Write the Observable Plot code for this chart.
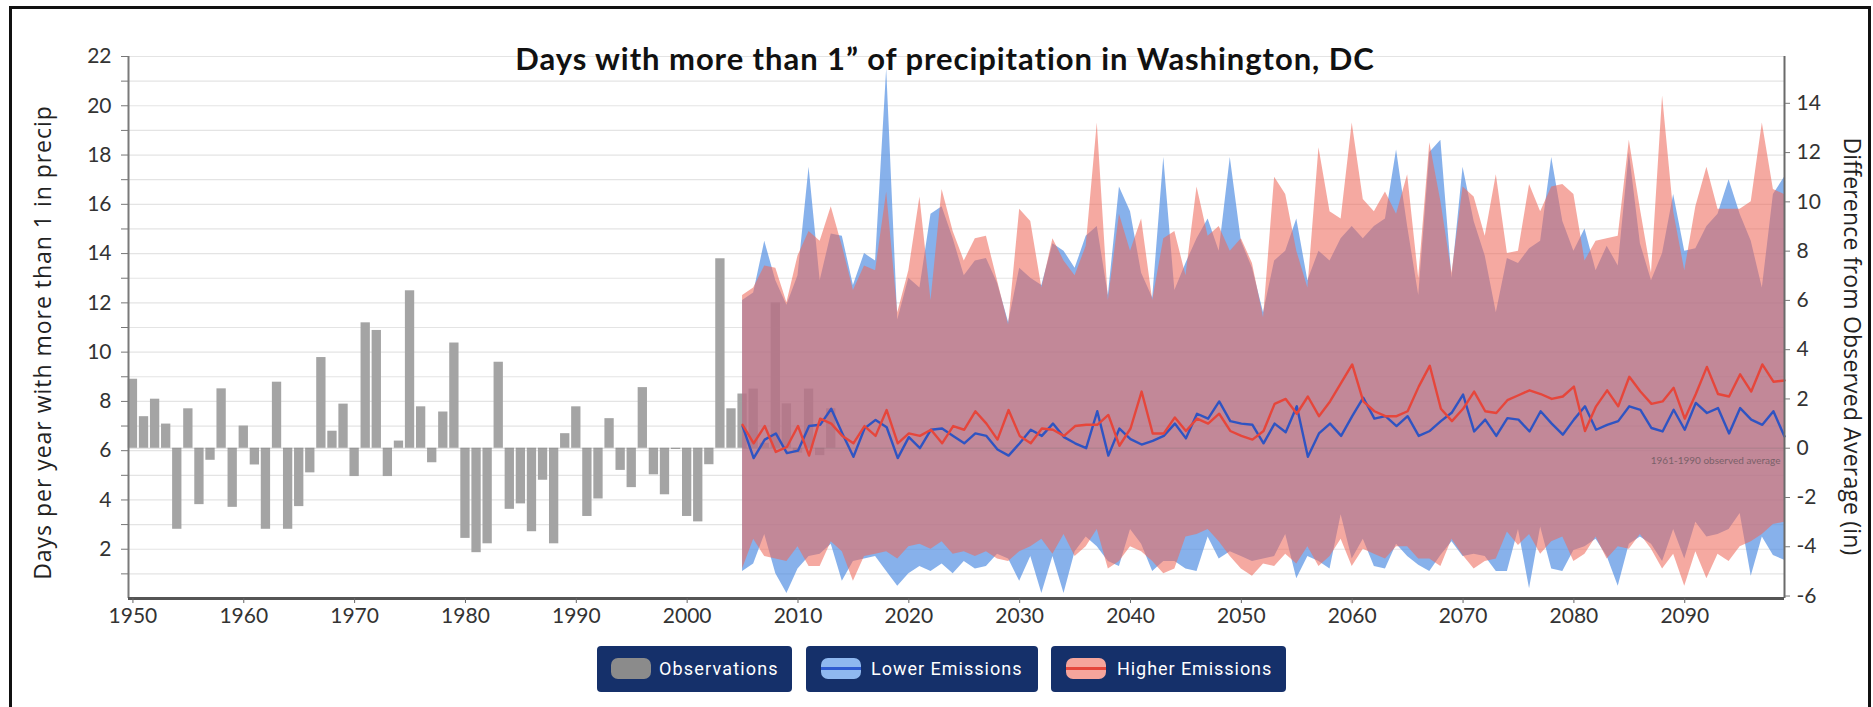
<!DOCTYPE html>
<html>
<head>
<meta charset="utf-8">
<script src="https://cdn.jsdelivr.net/npm/d3@7"></script>
<script src="https://cdn.jsdelivr.net/npm/@observablehq/plot@0.6"></script>
<style>
  html, body { margin: 0; padding: 0; background: #fff; width: 1873px; height: 707px; overflow: hidden; }
  #frame { position: absolute; left: 9px; top: 6px; width: 1862px; height: 730px; border: 3px solid #111; box-sizing: border-box; }
  #chart { position: absolute; left: 0; top: 0; }
  .title { position: absolute; left: 945px; top: 43px; transform: translateX(-50%); font: bold 31px Lato, sans-serif; line-height: 31px; color: #111; white-space: nowrap; }
  .ylab { position: absolute; font: 23px "Open Sans", sans-serif; color: #222; white-space: nowrap; line-height: 23px; }
  .leg { position: absolute; top: 646px; height: 46px; background: #15306a; border-radius: 4px; }
  .sw { position: absolute; top: 12px; width: 40px; height: 21px; border-radius: 7px; box-sizing: border-box; }
  .sw .ln { position: absolute; left: 0; right: 0; top: 9px; height: 3px; }
  .lt { position: absolute; top: 12px; font: 400 18px Roboto, sans-serif; line-height: 22px; color: #fff; white-space: nowrap; }
</style>
</head>
<body>
<div id="chart"></div>
<div id="frame"></div>
<div class="title" id="title">Days with more than 1” of precipitation in Washington, DC</div>
<div class="ylab" id="ylabL">Days per year with more than 1 in precip</div>
<div class="ylab" id="ylabR">Difference from Observed Average (in)</div>

<div class="leg" style="left:597px;width:195px;">
  <div class="sw" style="left:14px;background:#8b8b8b;"></div>
  <div class="lt" id="lt1" style="left:62px;">Observations</div>
</div>
<div class="leg" style="left:806px;width:232px;">
  <div class="sw" style="left:15px;background:#8fb8f0;"><div class="ln" style="background:#2f5bd0;"></div></div>
  <div class="lt" id="lt2" style="left:65px;">Lower Emissions</div>
</div>
<div class="leg" style="left:1051px;width:235px;">
  <div class="sw" style="left:15px;background:#f6a59c;"><div class="ln" style="background:#e5473c;"></div></div>
  <div class="lt" id="lt3" style="left:66px;">Higher Emissions</div>
</div>

<script>
// ---------- DATA ----------
const BASELINE = 6.1;            // 1961-1990 observed average (days), = 0 on right axis
const OBS_START = 1950;
// Days per year with more than 1" of precipitation, 1950-2013
const observations = [
  8.9, 7.38, 8.09, 7.08, 2.81, 7.7, 3.81, 5.61, 8.51, 3.7,
  7.0, 5.42, 2.81, 8.78, 2.81, 3.73, 5.1, 9.78, 6.79, 7.89,
  4.95, 11.19, 10.88, 4.95, 6.39, 12.49, 7.78, 5.51, 7.57, 10.37,
  2.44, 1.86, 2.22, 9.59, 3.62, 3.84, 2.71, 4.8, 2.22, 6.69,
  7.78, 3.33, 4.04, 7.3, 5.2, 4.5, 8.56, 5.02, 4.21, 6.05,
  3.33, 3.11, 5.43, 13.79, 7.7, 8.3, 8.5, 6.3, 12.0, 7.9,
  5.9, 8.5, 5.8, 7.7
];

const PROJ_START = 2005;
// Projections 2005-2099, difference from observed average (right axis)
const lowerMid = [
  0.9, -0.4, 0.35, 0.6, -0.2, -0.1, 0.9, 0.95, 1.6, 0.6,
  -0.35, 0.8, 1.15, 0.85, -0.4, 0.45, 0.0, 0.75, 0.8, 0.5,
  0.2, 0.6, 0.5, -0.05, -0.3, 0.2, 0.75, 0.5, 1.0, 0.45,
  0.2, 0.0, 1.5, -0.3, 0.8, 0.37, 0.15, 0.3, 0.5, 1.0,
  0.4, 1.4, 1.2, 1.9, 1.1, 1.0, 0.95, 0.2, 1.0, 0.65,
  1.7, -0.35, 0.6, 1.0, 0.5, 1.3, 2.05, 1.2, 1.3, 0.9,
  1.3, 0.5, 0.7, 1.1, 1.45, 2.18, 0.68, 1.16, 0.5, 1.22,
  1.16, 0.68, 1.5, 1.0, 0.55, 1.16, 1.7, 0.75, 0.95, 1.1,
  1.7, 1.56, 0.82, 0.68, 1.56, 0.75, 1.84, 1.43, 1.63, 0.6,
  1.63, 1.16, 0.95, 1.5, 0.48
];
const higherMid = [
  0.95, 0.2, 0.9, -0.15, 0.05, 0.9, -0.3, 1.2, 1.0, 0.5,
  0.2, 0.9, 0.5, 1.55, 0.2, 0.6, 0.5, 0.75, 0.2, 0.9,
  0.75, 1.5, 1.0, 0.35, 1.55, 0.5, 0.2, 0.8, 0.75, 0.5,
  0.9, 0.95, 0.95, 1.35, 0.1, 0.8, 2.3, 0.6, 0.6, 1.25,
  0.7, 1.2, 1.0, 1.4, 0.7, 0.5, 0.35, 0.7, 1.8, 2.0,
  1.4, 2.1, 1.3, 1.9, 2.65, 3.4, 1.9, 1.5, 1.3, 1.3,
  1.5, 2.5, 3.35, 1.6, 1.1, 1.6, 2.3, 1.5, 1.43, 1.95,
  2.15, 2.35, 2.2, 2.0, 2.1, 2.5, 0.7, 1.7, 2.35, 1.7,
  2.9, 2.3, 1.8, 1.9, 2.45, 1.2, 2.2, 3.3, 2.2, 2.1,
  3.0, 2.3, 3.4, 2.7, 2.75
];
const lowerHi = [
  6.0, 6.3, 8.4, 6.8, 5.8, 7.0, 11.4, 6.8, 8.7, 8.6,
  6.6, 7.9, 7.6, 15.4, 5.2, 6.9, 6.5, 9.5, 9.8, 8.5,
  7.0, 7.6, 7.7, 6.7, 5.1, 7.3, 6.9, 6.6, 8.3, 8.0,
  7.3, 8.6, 9.0, 6.2, 10.6, 9.6, 7.1, 6.1, 11.8, 6.4,
  7.5, 8.5, 9.3, 8.0, 11.8, 8.4, 7.3, 5.5, 7.6, 8.0,
  9.3, 6.8, 8.0, 7.6, 8.5, 9.0, 8.5, 9.0, 9.3, 12.1,
  9.0, 6.2, 12.0, 12.5, 6.9, 11.4, 9.2, 7.8, 5.5, 7.7,
  7.5, 8.1, 8.4, 11.8, 9.2, 8.0, 8.9, 7.2, 8.2, 7.4,
  12.0, 8.3, 6.8, 7.9, 10.3, 8.0, 8.1, 9.0, 9.5, 10.9,
  9.5, 8.4, 6.5, 10.3, 11.0
];
const lowerLo = [
  -5.0, -4.7, -3.5, -5.1, -5.9, -4.9, -4.4, -4.3, -3.9, -5.4,
  -4.6, -4.5, -4.4, -5.0, -5.6, -5.1, -4.8, -5.0, -4.7, -5.1,
  -4.6, -4.9, -4.8, -4.3, -4.5, -5.4, -4.4, -5.9, -4.4, -5.9,
  -4.2, -3.6, -4.0, -4.6, -4.8, -3.3, -3.9, -5.0, -4.6, -4.6,
  -4.9, -5.0, -3.6, -4.5, -4.2, -4.4, -4.6, -4.5, -4.4, -3.5,
  -5.3, -4.4, -4.6, -4.9, -2.7, -4.5, -3.7, -4.8, -4.9, -3.9,
  -4.4, -4.75, -5.0, -4.35, -3.8, -4.4, -4.3, -4.4, -5.0, -5.0,
  -3.3, -5.7, -3.2, -4.9, -5.0, -4.15, -4.0, -3.7, -4.4, -5.6,
  -3.9, -3.6, -3.9, -4.6, -3.3, -4.5, -3.0, -3.6, -3.5, -3.3,
  -2.65, -5.2, -3.6, -4.35, -4.55
];
const higherHi = [
  6.2, 6.5, 7.4, 7.3, 5.9, 7.8, 8.8, 8.4, 9.8, 8.2,
  6.4, 7.4, 7.2, 10.4, 5.5, 7.2, 10.2, 6.0, 10.5, 8.8,
  7.6, 8.5, 8.6, 6.8, 5.0, 9.7, 9.2, 6.5, 8.5, 7.6,
  7.0, 8.2, 13.2, 6.0, 9.5, 8.0, 9.3, 6.0, 8.5, 8.8,
  7.0, 10.6, 8.6, 9.0, 8.0, 8.5, 7.5, 5.3, 11.0, 10.3,
  8.0, 6.5, 12.2, 9.6, 9.3, 13.2, 10.1, 9.6, 10.4, 9.5,
  11.1, 6.9, 12.4, 10.0, 7.1, 10.6, 10.2, 8.6, 11.1, 7.9,
  8.0, 10.7, 9.6, 10.6, 10.7, 10.3, 7.6, 8.4, 8.5, 8.6,
  12.5, 9.7, 7.1, 14.3, 9.6, 7.2, 9.8, 11.4, 9.7, 9.7,
  9.7, 10.0, 13.2, 10.5, 10.3
];
const higherLo = [
  -4.9, -3.7, -4.4, -4.5, -4.6, -4.0, -4.8, -4.8, -3.8, -4.2,
  -5.4, -4.4, -4.3, -4.2, -4.5, -4.0, -3.9, -4.1, -3.8, -4.3,
  -4.2, -4.4, -4.2, -4.5, -4.6, -4.2, -4.0, -3.7, -4.3, -3.5,
  -4.4, -4.0, -3.3, -4.9, -4.6, -4.0, -4.2, -4.6, -5.1, -4.9,
  -3.6, -3.5, -3.3, -3.8, -4.4, -4.9, -5.2, -4.7, -4.8, -4.3,
  -4.7, -4.0, -4.8, -4.4, -3.7, -4.8, -4.1, -4.3, -4.5, -4.0,
  -4.0, -4.5, -4.5, -4.8, -3.7, -4.35, -4.9, -4.6, -4.5, -3.4,
  -3.95, -3.5, -4.3, -3.8, -3.6, -4.6, -4.3, -3.6, -4.5, -4.0,
  -4.1, -3.5, -4.1, -4.9, -4.3, -5.6, -4.2, -5.3, -4.3, -4.6,
  -4.0, -3.8, -3.5, -3.1, -3.0
];

// Tick labels
const xTicks = [1950, 1960, 1970, 1980, 1990, 2000, 2010, 2020, 2030, 2040, 2050, 2060, 2070, 2080, 2090];
const leftTicks = [2, 4, 6, 8, 10, 12, 14, 16, 18, 20, 22];
const leftMinorTicks = [1, 3, 5, 7, 9, 11, 13, 15, 17, 19, 21];
const rightTicks = [-6, -4, -2, 0, 2, 4, 6, 8, 10, 12, 14];
const baselineNote = "1961-1990 observed average";

// ---------- TABLES ----------
const obs = observations.map((v, i) => ({year: OBS_START + i, value: v}));
const proj = lowerMid.map((_, i) => ({
  year: PROJ_START + i,
  lowerMid: lowerMid[i] + BASELINE, lowerHi: lowerHi[i] + BASELINE, lowerLo: lowerLo[i] + BASELINE,
  higherMid: higherMid[i] + BASELINE, higherHi: higherHi[i] + BASELINE, higherLo: higherLo[i] + BASELINE
}));
const xMin = 1949.6, xMax = proj[proj.length - 1].year;

const chart = Plot.plot({
  width: 1873,
  height: 640,
  marginLeft: 128,
  marginRight: 89,
  marginTop: 56,
  marginBottom: 42,
  x: {domain: [xMin, xMax], axis: null},
  y: {domain: [0, 22], axis: null},
  style: {fontFamily: "Lato, sans-serif", fontSize: "21px", color: "#333", background: "transparent", overflow: "visible"},
  marks: [
    Plot.gridY(d3.range(1, 23), {stroke: "#e4e4e4", strokeOpacity: 1, strokeWidth: 1.2}),
    Plot.rect(obs, {x1: d => d.year - 0.42, x2: d => d.year + 0.42, y1: () => BASELINE, y2: "value", fill: "#a4a4a4"}),
    Plot.areaY(proj, {x: "year", y1: "lowerLo", y2: "lowerHi", fill: "rgb(70,135,225)", fillOpacity: 0.65}),
    Plot.areaY(proj, {x: "year", y1: "higherLo", y2: "higherHi", fill: "rgb(238,105,90)", fillOpacity: 0.574}),
    Plot.ruleY([BASELINE], {stroke: "#666", strokeOpacity: 0.25, strokeWidth: 1}),
    Plot.text([proj[proj.length - 1]], {x: "year", y: () => BASELINE, text: () => baselineNote, dy: 13, dx: -4, textAnchor: "end", fontSize: 10, fill: "#7a6169", fontFamily: "Lato, sans-serif"}),
    Plot.lineY(proj, {x: "year", y: "lowerMid", stroke: "#2f54c2", strokeWidth: 2.4}),
    Plot.lineY(proj, {x: "year", y: "higherMid", stroke: "#e6463b", strokeWidth: 2.4}),
    // axis lines
    Plot.ruleX([xMin], {y1: 0, y2: 22, stroke: "#7a7a7a", strokeWidth: 2}),
    Plot.ruleX([xMax], {y1: 0, y2: 22, stroke: "#6a6a6a", strokeWidth: 2}),
    Plot.ruleY([0], {x1: xMin, x2: xMax, stroke: "#555", strokeWidth: 3}),
    // axes
    Plot.axisX({ticks: xTicks, tickFormat: d => String(d), tickSize: 5, tickPadding: 5, stroke: "#666", fill: "#333", label: null}),
    Plot.axisY({anchor: "left", ticks: leftTicks, tickFormat: d => String(d), tickSize: 7, tickPadding: 10, stroke: "#777", fill: "#333", label: null}),
    Plot.axisY({anchor: "left", ticks: leftMinorTicks, tickFormat: () => "", tickSize: 7, stroke: "#777", label: null}),
    Plot.axisY({anchor: "right", ticks: rightTicks.map(v => v + BASELINE), tickFormat: d => String(Math.round(d - BASELINE)), tickSize: 5, tickPadding: 7, stroke: "#777", fill: "#333", label: null})
  ]
});
document.getElementById("chart").appendChild(chart);

// ---------- text layout ----------
function fitWidth(el, target) {
  el.style.letterSpacing = "0px";
  const w = el.offsetWidth;
  const n = el.textContent.length;
  el.style.letterSpacing = ((target - w) / n).toFixed(3) + "px";
}
function place() {
  const t = document.getElementById("title");
  fitWidth(t, 860);
  const L = document.getElementById("ylabL");
  fitWidth(L, 475);
  L.style.left = (42 - L.offsetWidth / 2) + "px";
  L.style.top = (342 - L.offsetHeight / 2) + "px";
  L.style.transform = "rotate(-90deg)";
  const R = document.getElementById("ylabR");
  fitWidth(R, 418);
  R.style.left = (1852 - R.offsetWidth / 2) + "px";
  R.style.top = (346 - R.offsetHeight / 2) + "px";
  R.style.transform = "rotate(90deg)";
  fitWidth(document.getElementById("lt1"), 120);
  fitWidth(document.getElementById("lt2"), 151);
  fitWidth(document.getElementById("lt3"), 155);
}
place();
if (document.fonts && document.fonts.ready) document.fonts.ready.then(place);
</script>
</body>
</html>
